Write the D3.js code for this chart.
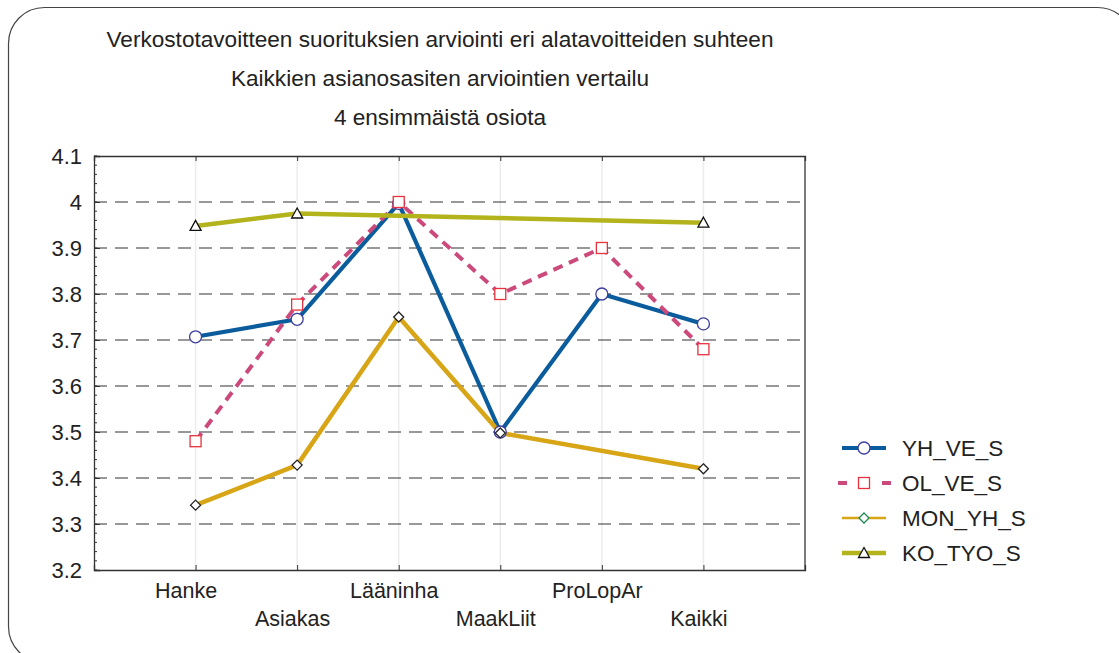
<!DOCTYPE html>
<html>
<head>
<meta charset="utf-8">
<script src="https://cdn.jsdelivr.net/npm/d3@7"></script>
<style>
html,body{margin:0;padding:0;background:#fff;}
svg{display:block;font-family:"Liberation Sans",Arial,Helvetica,sans-serif;}
</style>
</head>
<body>
<svg id="chart" width="1119" height="653"></svg>
<script>
const titleLines = [
  "Verkostotavoitteen suorituksien arviointi eri alatavoitteiden suhteen",
  "Kaikkien asianosasiten arviointien vertailu",
  "4 ensimmäistä osiota"
];
const categories = ["Hanke","Asiakas","Lääninha","MaakLiit","ProLopAr","Kaikki"];
const seriesNames = ["YH_VE_S","OL_VE_S","MON_YH_S","KO_TYO_S"];
const yhVeS   = [3.707, 3.745, 3.997, 3.500, 3.800, 3.735];
const olVeS   = [3.480, 3.777, 4.000, 3.800, 3.900, 3.680];
const monYhS  = [3.341, 3.428, 3.750, 3.498, null, 3.420];
const koTyoS  = [3.948, 3.975, null, null, null, 3.955];
const yTicks = [3.2,3.3,3.4,3.5,3.6,3.7,3.8,3.9,4.0,4.1];
const yTickLabels = ["3.2","3.3","3.4","3.5","3.6","3.7","3.8","3.9","4","4.1"];
const yMinorTicks = d3.range(3.2, 4.1001, 0.02);

const seriesValues = [yhVeS, olVeS, monYhS, koTyoS];
const styles = [
  {color:"#0a5c9c", width:4.2, dash:null, marker:"circle", mStroke:"#3d3d9e", legMStroke:"#3d3d9e", legWidth:4},
  {color:"#cc4a7b", width:4, dash:"10,7", marker:"square", mStroke:"#e8323e", legMStroke:"#e8323e", legWidth:4},
  {color:"#d7a516", width:4.5, dash:null, marker:"diamond", mStroke:"#222", legMStroke:"#1d8a55", legWidth:2.6},
  {color:"#b3b41c", width:4.5, dash:null, marker:"triangle", mStroke:"#111", legMStroke:"#111", legWidth:4.5}
];

const svg = d3.select("#chart");
const L = 94, R = 805, T = 156, B = 570;

// outer rounded frame
svg.append("rect").attr("x",8.5).attr("y",7.5).attr("width",1125).attr("height",655)
  .attr("rx",36).attr("ry",36).attr("fill","none").attr("stroke","#444").attr("stroke-width",1.2);

// titles
const titleY = [47, 86, 125];
titleLines.forEach((t,i)=>{
  svg.append("text").attr("x",440).attr("y",titleY[i]).attr("text-anchor","middle")
    .attr("font-size",22.6).attr("fill","#222").text(t);
});

const x = d3.scalePoint().domain(categories).range([L,R]).padding(1);
const y = d3.scaleLinear().domain([3.2,4.1]).range([B,T]);

// vertical gridlines
svg.append("g").selectAll("line").data(categories).join("line")
  .attr("x1",d=>x(d)).attr("x2",d=>x(d)).attr("y1",T).attr("y2",B)
  .attr("stroke","#ececec").attr("stroke-width",1.5);

// horizontal dashed gridlines
svg.append("g").selectAll("line").data(yTicks.filter(v=>v>3.21 && v<4.09)).join("line")
  .attr("x1",L).attr("x2",R).attr("y1",d=>y(d)).attr("y2",d=>y(d))
  .attr("stroke","#333").attr("stroke-width",1.2).attr("stroke-dasharray","13,8");

// minor ticks
svg.append("g").selectAll("line").data(yMinorTicks).join("line")
  .attr("x1",L).attr("x2",L+3).attr("y1",d=>y(d)).attr("y2",d=>y(d))
  .attr("stroke","#333").attr("stroke-width",1);

// left axis
const yAxis = svg.append("g").attr("transform",`translate(${L},0)`)
  .call(d3.axisLeft(y).tickValues(yTicks).tickSize(-6).tickPadding(12)
    .tickFormat((d,i)=>yTickLabels[i]));
yAxis.select(".domain").attr("stroke","#333").attr("stroke-width",1.3);
yAxis.selectAll(".tick line").attr("stroke","#333");
yAxis.selectAll("text").attr("font-size",22).attr("fill","#222")
  .attr("font-family","'Liberation Sans',Arial,sans-serif");

// bottom axis
const xAxis = svg.append("g").attr("transform",`translate(0,${B})`)
  .call(d3.axisBottom(x).tickSize(-5).tickPadding(0));
xAxis.select(".domain").attr("stroke","#333").attr("stroke-width",1.3);
xAxis.selectAll(".tick line").attr("stroke","#333");
xAxis.selectAll("text").attr("font-size",21.5).attr("fill","#222")
  .attr("font-family","'Liberation Sans',Arial,sans-serif")
  .attr("dy",null).attr("dx",(d,i)=> i===0 ? -10 : -5)
  .attr("y",(d,i)=> i%2===0 ? 28 : 56);

// top axis ticks & frame
const xTop = svg.append("g").attr("transform",`translate(0,${T})`)
  .call(d3.axisTop(x).tickSize(-5).tickFormat(""));
xTop.select(".domain").attr("stroke","#333").attr("stroke-width",1.3);
xTop.selectAll(".tick line").attr("stroke","#333");
svg.append("line").attr("x1",R).attr("x2",R).attr("y1",T).attr("y2",B)
  .attr("stroke","#333").attr("stroke-width",1.3);

// lines
const lineGen = d3.line().x(d=>x(d.c)).y(d=>y(d.v));
seriesValues.forEach((vals,si)=>{
  const pts = categories.map((c,i)=>({c, v: vals[i]})).filter(d=>d.v!=null);
  const st = styles[si];
  svg.append("path").datum(pts).attr("d",lineGen)
    .attr("fill","none").attr("stroke",st.color).attr("stroke-width",st.width)
    .attr("stroke-linejoin","round")
    .attr("stroke-dasharray",st.dash);
});

function drawMarker(g, type, cx, cy, stroke){
  if(type==="circle"){
    g.append("circle").attr("cx",cx).attr("cy",cy).attr("r",6)
      .attr("fill","#fff").attr("stroke",stroke).attr("stroke-width",1.3);
  } else if(type==="square"){
    g.append("rect").attr("x",cx-5.5).attr("y",cy-5.5).attr("width",11).attr("height",11)
      .attr("fill","#fff").attr("stroke",stroke).attr("stroke-width",1.3);
  } else if(type==="diamond"){
    g.append("path").attr("d",`M${cx},${cy-5}L${cx+5},${cy}L${cx},${cy+5}L${cx-5},${cy}Z`)
      .attr("fill","#fff").attr("stroke",stroke).attr("stroke-width",1.3);
  } else {
    g.append("path").attr("d",`M${cx},${cy-5.5}L${cx+5.5},${cy+4.5}L${cx-5.5},${cy+4.5}Z`)
      .attr("fill","#fff").attr("stroke",stroke).attr("stroke-width",1.3);
  }
}

// markers
const mg = svg.append("g");
seriesValues.forEach((vals,si)=>{
  categories.forEach((c,i)=>{
    if(vals[i]==null) return;
    drawMarker(mg, styles[si].marker, x(c), y(vals[i]), styles[si].mStroke);
  });
});

// legend
const legY = [448, 483, 518, 553];
const lg = svg.append("g");
seriesNames.forEach((name,si)=>{
  const st = styles[si];
  const yy = legY[si];
  if(st.dash){
    lg.append("line").attr("x1",838).attr("x2",847).attr("y1",yy).attr("y2",yy)
      .attr("stroke",st.color).attr("stroke-width",st.legWidth);
    lg.append("line").attr("x1",882).attr("x2",891).attr("y1",yy).attr("y2",yy)
      .attr("stroke",st.color).attr("stroke-width",st.legWidth);
  } else {
    lg.append("line").attr("x1",842).attr("x2",886).attr("y1",yy).attr("y2",yy)
      .attr("stroke",st.color).attr("stroke-width",st.legWidth);
  }
  drawMarker(lg, st.marker, 864, yy, st.legMStroke);
  lg.append("text").attr("x",902).attr("y",yy+8).attr("font-size",22.5).attr("fill","#222").text(name);
});
</script>
</body>
</html>
